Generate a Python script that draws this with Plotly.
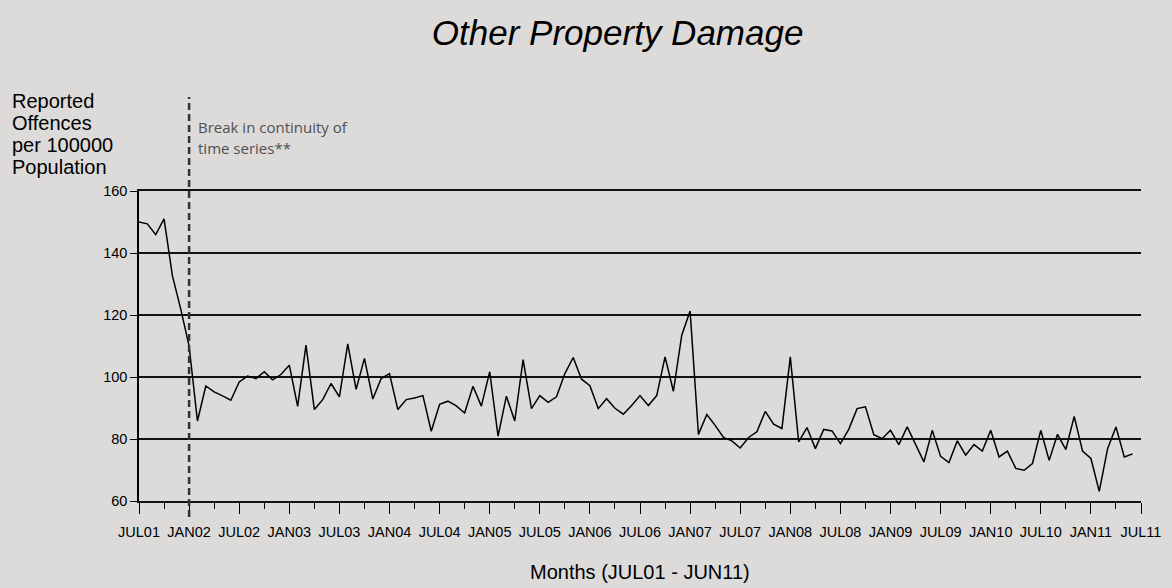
import plotly.graph_objects as go

# Monthly rate of reported offences per 100000 population, JUL01 .. JUN11
rates = [
    150.0, 149.4, 145.9, 151.0, 132.7, 121.9, 110.0, 85.8, 97.1, 95.2, 93.9, 92.5,
    98.4, 100.3, 99.5, 101.7, 99.1, 100.8, 103.8, 90.5, 110.3, 89.5, 92.7, 97.9,
    93.6, 110.7, 96.0, 106.0, 92.9, 99.5, 101.1, 89.5, 92.7, 93.2, 94.0, 82.5,
    91.2, 92.2, 90.7, 88.4, 97.0, 90.6, 101.7, 80.9, 93.8, 85.8, 105.6, 89.8,
    94.0, 91.8, 93.6, 101.1, 106.3, 99.3, 97.2, 89.8, 93.0, 89.9, 88.0, 90.8,
    94.0, 90.8, 94.0, 106.5, 95.4, 113.5, 121.3, 81.5, 87.9, 84.4, 80.5, 79.4,
    77.1, 80.5, 82.3, 88.9, 84.8, 83.4, 106.5, 79.1, 83.7, 76.9, 83.1, 82.6,
    78.5, 83.1, 89.8, 90.4, 81.4, 80.1, 82.8, 78.2, 83.9, 78.5, 72.6, 82.8,
    74.4, 72.4, 79.4, 74.8, 78.2, 76.1, 82.8, 74.2, 76.1, 70.5, 69.9, 72.1,
    82.8, 73.1, 81.5, 76.6, 87.3, 76.1, 73.7, 63.1, 76.9, 83.9, 74.2, 75.2,
]
month_index = list(range(len(rates)))

tick_labels = ["JUL01", "JAN02", "JUL02", "JAN03", "JUL03", "JAN04", "JUL04",
               "JAN05", "JUL05", "JAN06", "JUL06", "JAN07", "JUL07", "JAN08",
               "JUL08", "JAN09", "JUL09", "JAN10", "JUL10", "JAN11", "JUL11"]
tick_positions = [6 * k for k in range(len(tick_labels))]
minor_positions = [6 * k + 3 for k in range(len(tick_labels) - 1)]
y_ticks = [60, 80, 100, 120, 140, 160]
break_month = 6  # JAN02

y_title_lines = ["Reported", "Offences", "per 100000", "Population"]
break_note_lines = ["Break in continuity of", "time series**"]

BG = "#DCDBD9"
FONT = "Liberation Sans, Arial, sans-serif"

W, H = 1172, 588
ML, MR, MT, MB = 139, 31, 191, 87
PH = H - MT - MB


def py(pixel_y):
    """pixel row (from top of figure) -> paper y coordinate"""
    return (H - MB - pixel_y) / PH


fig = go.Figure()
fig.add_trace(go.Scatter(
    x=month_index, y=rates, mode="lines",
    line=dict(color="#000000", width=1.5),
    hoverinfo="skip", showlegend=False,
))

fig.update_layout(
    width=W, height=H,
    paper_bgcolor=BG, plot_bgcolor=BG,
    margin=dict(l=ML, r=MR, t=MT, b=MB),
    font=dict(family=FONT, color="#000000"),
    title=dict(
        text="<i>Other Property Damage</i>",
        font=dict(family=FONT, size=35, color="#000000"),
        x=0.527, xref="container", xanchor="center",
        y=1 - 33 / H, yref="container", yanchor="middle",
    ),
    showlegend=False,
)

fig.update_xaxes(
    range=[0, 120],
    tickmode="array", tickvals=tick_positions, ticktext=tick_labels,
    ticks="outside", ticklen=11, tickwidth=1.2, tickcolor="#000000",
    ticklabelstandoff=6,
    minor=dict(tickmode="array", tickvals=minor_positions, ticks="outside",
               ticklen=6, tickwidth=1.2, tickcolor="#000000"),
    tickfont=dict(family=FONT, size=14.5, color="#000000"),
    showgrid=False, zeroline=False,
    showline=True, linecolor="#111111", linewidth=1.7, mirror=True,
    fixedrange=True,
)
fig.update_yaxes(
    range=[60, 160],
    tickmode="array", tickvals=y_ticks,
    ticks="outside", ticklen=7, tickwidth=1.2, tickcolor="#000000",
    tickfont=dict(family=FONT, size=14.5, color="#000000"),
    showgrid=True, gridcolor="#111111", gridwidth=1.5,
    zeroline=False,
    showline=True, linecolor="#000000", linewidth=1.5,
    fixedrange=True,
)

# break in series marker
fig.add_shape(
    type="line", xref="x", yref="paper",
    x0=break_month, x1=break_month, y0=py(517), y1=py(97),
    line=dict(color="#333333", width=2.5, dash="7px,4px"),
)
for k, line in enumerate(break_note_lines):
    fig.add_annotation(
        xref="x", yref="paper", x=break_month, y=py(127 + 21 * k),
        xshift=7, xanchor="left", yanchor="middle", align="left",
        text=line, showarrow=False,
        font=dict(family="Open Sans, Noto Sans, sans-serif", size=15, color="#505050"),
    )

# y axis title (top-left block)
for k, line in enumerate(y_title_lines):
    fig.add_annotation(
        xref="paper", yref="paper", x=(10 - ML) / (W - ML - MR), y=py(101 + 22 * k),
        xanchor="left", yanchor="middle", align="left",
        text=line, showarrow=False,
        font=dict(family=FONT, size=20, color="#000000"),
    )

# x axis title
fig.add_annotation(
    xref="paper", yref="paper", x=0.5, y=py(572),
    xanchor="center", yanchor="middle",
    text="Months (JUL01 - JUN11)",
    showarrow=False,
    font=dict(family=FONT, size=20, color="#000000"),
)

fig.write_html(
    "out.html",
    config={"displayModeBar": False},
    post_script="document.body.style.margin='0';document.body.style.background='" + BG + "';",
)
